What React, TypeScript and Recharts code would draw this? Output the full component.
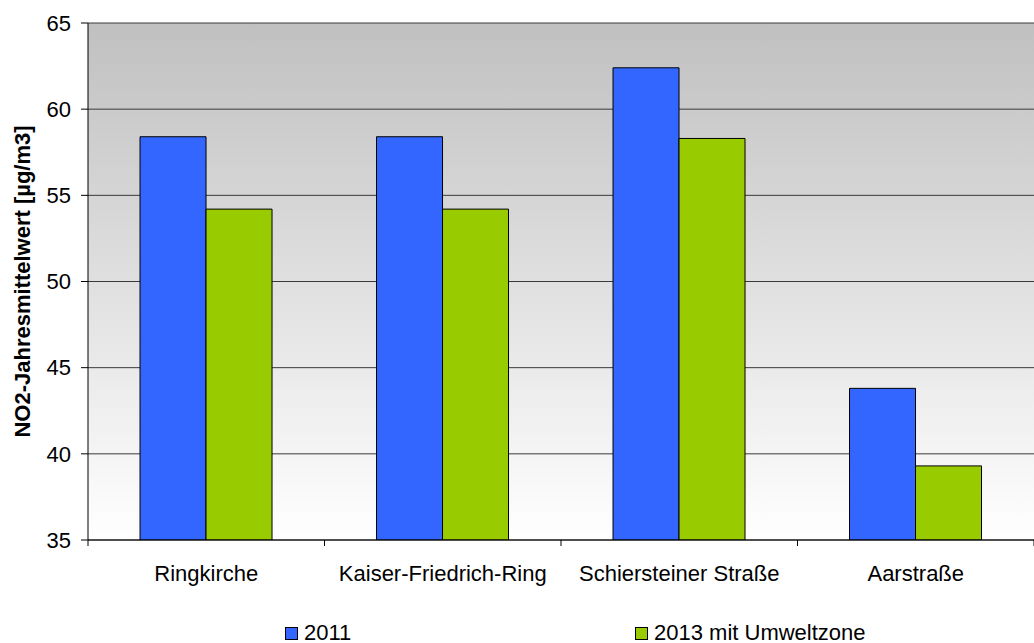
import React from "react";
import { BarChart, Bar, XAxis, YAxis, CartesianGrid, Legend } from "recharts";

const stations: string[] = ["Ringkirche", "Kaiser-Friedrich-Ring", "Schiersteiner Straße", "Aarstraße"];
const values2011: number[] = [58.4, 58.4, 62.4, 43.8];
const values2013: number[] = [54.2, 54.2, 58.3, 39.3];
const yTicks: number[] = [35, 40, 45, 50, 55, 60, 65];

const FONT = "'Liberation Sans', Arial, sans-serif";
const BLUE = "#3366ff";
const GREEN = "#99cc00";

const data = stations.map((name, i) => ({
  name,
  y2011: values2011[i],
  y2013: values2013[i],
}));

const StationTick = (props: any) => {
  const { x, y, payload, index } = props;
  const half = payload.offset || 0;
  return (
    <g>
      <line x1={x - half} x2={x - half} y1={y} y2={y + 6} stroke="#000" />
      {index === stations.length - 1 && (
        <line x1={x + half} x2={x + half} y1={y} y2={y + 6} stroke="#000" />
      )}
      <text x={x} y={y + 41} textAnchor="middle" fontSize={22} fill="#000" fontFamily={FONT}>
        {payload.value}
      </text>
    </g>
  );
};

const AxisTitle = (props: any) => {
  const { viewBox } = props;
  const cx = viewBox.x + 22;
  const cy = viewBox.y + viewBox.height / 2;
  return (
    <text
      x={cx}
      y={cy}
      transform={`rotate(-90 ${cx} ${cy})`}
      textAnchor="middle"
      dominantBaseline="central"
      fontSize={22}
      fontWeight="bold"
      fontFamily={FONT}
      fill="#000"
    >
      NO2-Jahresmittelwert [µg/m3]
    </text>
  );
};

const LegendBox = () => (
  <div style={{ display: "flex", paddingLeft: 285, fontFamily: FONT, fontSize: 22, color: "#000" }}>
    {[
      { label: "2011", color: BLUE },
      { label: "2013 mit Umweltzone", color: GREEN },
    ].map((it) => (
      <div key={it.label} style={{ width: 350, display: "flex", alignItems: "center" }}>
        <span
          style={{
            display: "inline-block",
            width: 11,
            height: 11,
            background: it.color,
            border: "1px solid #000",
            marginRight: 6,
          }}
        />
        <span>{it.label}</span>
      </div>
    ))}
  </div>
);

const App: React.FC = () => {
  return (
    <div style={{ position: "absolute", left: 0, top: 0, width: 1034, height: 643, background: "#fff" }}>
      <BarChart
        width={1034}
        height={643}
        data={data}
        margin={{ top: 23, right: 0, bottom: 0, left: 0 }}
        barCategoryGap="22%"
        barGap={0}
      >
        <defs>
          <linearGradient id="plotBg" x1="0" y1="0" x2="0" y2="1">
            <stop offset="0%" stopColor="#c0c0c0" />
            <stop offset="100%" stopColor="#ffffff" />
          </linearGradient>
        </defs>
        <CartesianGrid vertical={false} stroke="#3a3a3a" fill="url(#plotBg)" fillOpacity={1} />
        <XAxis
          dataKey="name"
          axisLine={{ stroke: "#000" }}
          tickLine={false}
          tickSize={0}
          tickMargin={0}
          tick={<StationTick />}
          interval={0}
          height={103}
        />
        <YAxis
          width={88}
          domain={[35, 65]}
          ticks={yTicks}
          allowDataOverflow
          axisLine={{ stroke: "#000" }}
          tickLine={{ stroke: "#000" }}
          tickSize={7}
          tickMargin={10}
          tick={{ fill: "#000", fontSize: 22, fontFamily: FONT }}
          label={<AxisTitle />}
        />
        <Legend
          verticalAlign="bottom"
          content={<LegendBox />}
          wrapperStyle={{ left: 0, top: 620, width: 1034, height: 0, overflow: "visible" }}
        />
        <Bar dataKey="y2011" name="2011" fill={BLUE} stroke="#000" strokeWidth={1} isAnimationActive={false} />
        <Bar dataKey="y2013" name="2013 mit Umweltzone" fill={GREEN} stroke="#000" strokeWidth={1} isAnimationActive={false} />
      </BarChart>
    </div>
  );
};

export default App;
